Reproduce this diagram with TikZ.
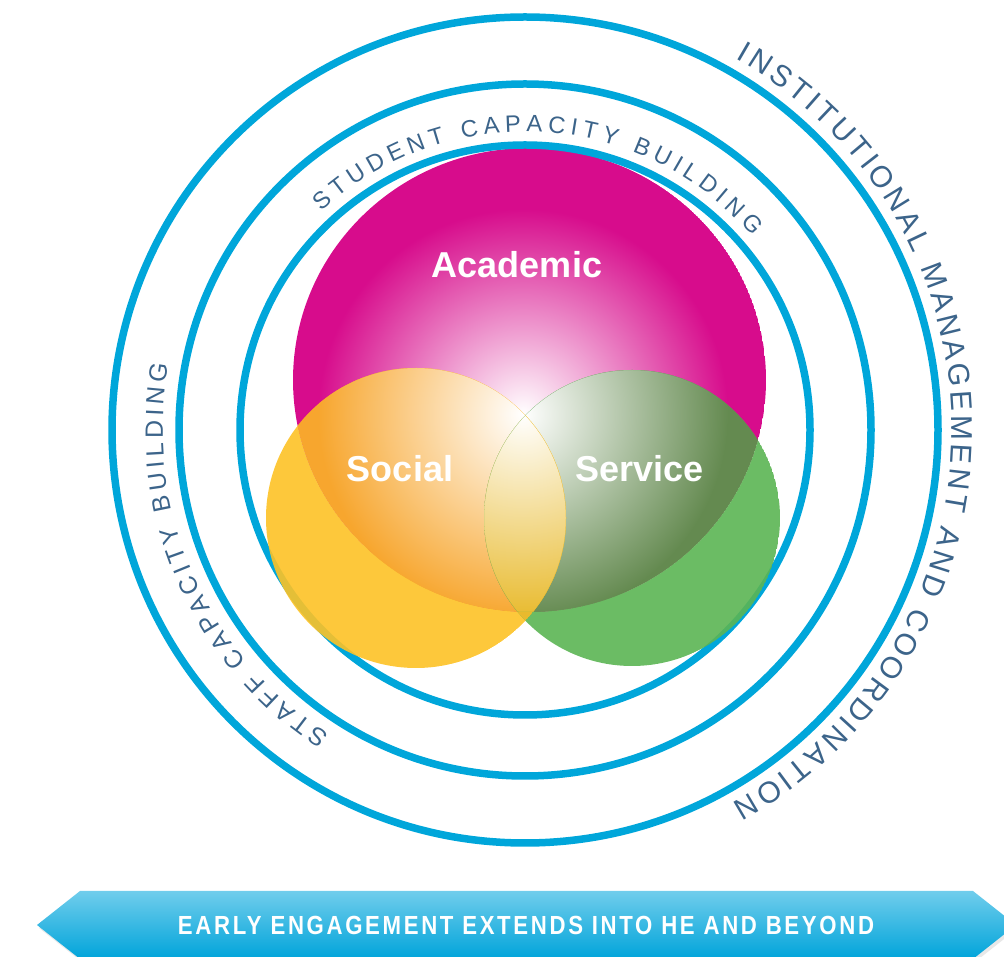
\documentclass[tikz,border=0pt]{standalone}
\usepackage{fontspec}
\usepackage{graphicx}
\setmainfont{Liberation Sans}
\setsansfont{Liberation Sans}
\newfontfamily\bannerfont{Liberation Sans}[LetterSpace=12]
\usetikzlibrary{decorations.text,shadows,calc}

\definecolor{ringblue}{RGB}{0,166,218}
\definecolor{ringtext}{RGB}{60,100,138}
\definecolor{acad}{RGB}{215,12,140}
\definecolor{socy}{RGB}{253,194,38}
\definecolor{servg}{RGB}{91,181,83}
\definecolor{socacad}{RGB}{247,166,46}
\definecolor{servacad}{RGB}{100,138,80}
\definecolor{gold}{RGB}{232,186,45}
\definecolor{bantop}{RGB}{112,205,236}
\definecolor{banbot}{RGB}{0,164,218}

\newcommand\acadpath{(529.5,576) ellipse [x radius=236.5, y radius=232]}
\newcommand\socpath{(416,438) circle (150)}
\newcommand\servpath{(632,438) circle (148)}

\begin{document}
\begin{tikzpicture}[x=1pt,y=1pt,
  ring/.style={draw=ringblue, line width=7.5pt},
  vlabel/.style={text=white, font=\fontsize{36}{40}\selectfont\bfseries, anchor=base},
  ringlabel/.style={decorate, decoration={text along path, text align={fit to path}, text color=ringtext, text={#1}}},
]
\useasboundingbox (0,0) rectangle (1004,956);
\coordinate (C) at (525,526);
\coordinate (G) at (523,542);

% Academic
\begin{scope}
  \clip \acadpath;
  \fill[acad] \acadpath;
  \shade[inner color=white, outer color=acad] (G) circle (205);
\end{scope}
% Social & Academic
\begin{scope}
  \clip \acadpath;
  \clip \socpath;
  \fill[socacad] (0,0) rectangle (1004,956);
  \shade[inner color=white, outer color=socacad] (G) circle (205);
\end{scope}
% Service & Academic
\begin{scope}
  \clip \acadpath;
  \clip \servpath;
  \fill[servacad] (0,0) rectangle (1004,956);
  \shade[inner color=white, outer color=servacad] (G) circle (205);
\end{scope}
% triple
\begin{scope}
  \clip \acadpath;
  \clip \socpath;
  \clip \servpath;
  \fill[gold] (0,0) rectangle (1004,956);
  \shade[inner color=white, outer color=gold] (G) circle (205);
\end{scope}

% rings
\draw[ring] (C) circle (413);
\draw[ring] (C) circle (346);
\draw[ring] (C) circle (285);

% Social outside academic
\begin{scope}
  \clip \socpath;
  \fill[socy, fill opacity=0.9, even odd rule] \socpath \acadpath;
\end{scope}
% Service outside academic
\begin{scope}
  \clip \servpath;
  \fill[servg, fill opacity=0.9, even odd rule] \servpath \acadpath;
\end{scope}
% Social & Service outside academic
\begin{scope}
  \clip \socpath;
  \clip \servpath;
  \fill[gold, even odd rule] \socpath \acadpath;
\end{scope}

% labels
\node[vlabel] (academic) at (517,678.3) {Academic};
\node[vlabel] (social) at (400,474.3) {Social};
\node[vlabel] (service) at (639.7,474.3) {Service};

% ring texts
\path[ringlabel={|\fontsize{23.7}{28}\selectfont|STUDENT CAPACITY BUILDING}]
  ($(C)+(133:298.5)$) arc[start angle=133, end angle=40.4, radius=298.5];
\path[ringlabel={|\fontsize{25}{30}\selectfont|STAFF CAPACITY BUILDING}]
  ($(C)+(237.3:362)$) arc[start angle=237.3, end angle=169.5, radius=362];
\path[ringlabel={|\fontsize{30}{34}\selectfont|INSTITUTIONAL MANAGEMENT AND COORDINATION}]
  ($(C)+(60.4:427)$) arc[start angle=60.4, end angle=-61, radius=427];

% banner
\path[top color=bantop, bottom color=banbot,
      drop shadow={opacity=0.18, shadow xshift=2, shadow yshift=-3}]
  (37,31) -- (80,65) -- (973,65) -- (1016,31) -- (973,-3) -- (80,-3) -- cycle;
\node[text=white, anchor=base, inner sep=0pt] (banner) at (526,21)
  {\resizebox{696pt}{18.3pt}{\bannerfont\bfseries EARLY ENGAGEMENT EXTENDS INTO HE AND BEYOND}};
\end{tikzpicture}
\end{document}
